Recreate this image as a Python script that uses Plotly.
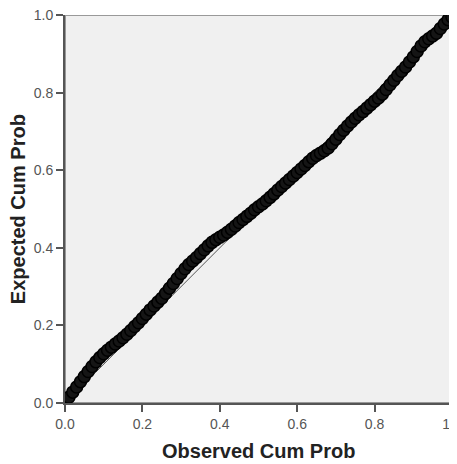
import plotly.graph_objects as go

# Observed cumulative probability (x) and expected cumulative probability (y)
observed = [0.00, 0.01, 0.02, 0.03, 0.04, 0.05, 0.06, 0.07, 0.08, 0.09,
            0.10, 0.11, 0.12, 0.13, 0.14, 0.15, 0.16, 0.17, 0.18, 0.19,
            0.20, 0.21, 0.22, 0.23, 0.24, 0.25, 0.26, 0.27, 0.28, 0.29,
            0.30, 0.31, 0.32, 0.33, 0.34, 0.35, 0.36, 0.37, 0.38, 0.39,
            0.40, 0.41, 0.42, 0.43, 0.44, 0.45, 0.46, 0.47, 0.48, 0.49,
            0.50, 0.51, 0.52, 0.53, 0.54, 0.55, 0.56, 0.57, 0.58, 0.59,
            0.60, 0.61, 0.62, 0.63, 0.64, 0.65, 0.66, 0.67, 0.68, 0.69,
            0.70, 0.71, 0.72, 0.73, 0.74, 0.75, 0.76, 0.77, 0.78, 0.79,
            0.80, 0.81, 0.82, 0.83, 0.84, 0.85, 0.86, 0.87, 0.88, 0.89,
            0.90, 0.91, 0.92, 0.93, 0.94, 0.95, 0.96, 0.97, 0.98, 0.99, 1.00]
expected = [0.005, 0.015, 0.028, 0.041, 0.055, 0.068, 0.081, 0.094, 0.106, 0.117,
            0.127, 0.136, 0.144, 0.152, 0.160, 0.168, 0.177, 0.187, 0.197, 0.207,
            0.218, 0.229, 0.240, 0.250, 0.260, 0.270, 0.283, 0.296, 0.308, 0.321,
            0.334, 0.346, 0.357, 0.366, 0.375, 0.385, 0.395, 0.405, 0.414, 0.421,
            0.427, 0.433, 0.440, 0.448, 0.456, 0.465, 0.473, 0.481, 0.489, 0.498,
            0.506, 0.513, 0.521, 0.530, 0.539, 0.549, 0.558, 0.567, 0.576, 0.585,
            0.594, 0.603, 0.612, 0.622, 0.631, 0.638, 0.644, 0.650, 0.657, 0.668,
            0.680, 0.692, 0.703, 0.714, 0.724, 0.734, 0.743, 0.751, 0.760, 0.769,
            0.778, 0.786, 0.796, 0.808, 0.820, 0.832, 0.844, 0.855, 0.866, 0.879,
            0.892, 0.906, 0.920, 0.931, 0.939, 0.946, 0.953, 0.965, 0.977, 0.988, 0.995]
ref_x = [0.0, 1.0]
ref_y = [0.0, 1.0]
tick_vals = [0.0, 0.2, 0.4, 0.6, 0.8, 1.0]
tick_text = ["0.0", "0.2", "0.4", "0.6", "0.8", "1.0"]
x_title = "Observed Cum Prob"
y_title = "Expected Cum Prob"

FONT = "Liberation Sans, Arial, sans-serif"

fig = go.Figure()
fig.add_trace(go.Scatter(x=ref_x, y=ref_y, mode="lines",
                         line=dict(color="#555555", width=1), hoverinfo="skip"))
fig.add_trace(go.Scatter(x=observed, y=expected, mode="markers",
                         marker=dict(symbol="circle", size=12, color="#151515",
                                     line=dict(color="#000000", width=1.5))))

axis_common = dict(range=[0, 1], tickvals=tick_vals, ticktext=tick_text,
                   showgrid=False, zeroline=False, ticks="outside", ticklen=7,
                   tickwidth=2, tickcolor="#555555", showline=True,
                   linecolor="#555555", linewidth=2,
                   tickfont=dict(family=FONT, size=14, color="#555555"),
                   ticklabeloverflow="allow",
                   fixedrange=True, automargin=False)

fig.update_layout(
    width=449, height=456,
    margin=dict(l=57, r=5, t=7, b=61),
    paper_bgcolor="white", plot_bgcolor="#f0f0f0",
    showlegend=False,
    xaxis=axis_common,
    yaxis=axis_common,
    shapes=[dict(type="rect", xref="x", yref="y", x0=0, y0=0, x1=1, y1=1,
                 line=dict(color="#999999", width=2), layer="below")],
    annotations=[
        dict(text="<b>" + x_title + "</b>", xref="paper", yref="paper",
             x=0.5, y=-0.124, xanchor="center", yanchor="middle", showarrow=False,
             font=dict(family=FONT, size=20, color="#222222")),
        dict(text="<b>" + y_title + "</b>", xref="paper", yref="paper",
             x=-0.121, y=0.5, xanchor="center", yanchor="middle", showarrow=False,
             textangle=-90, font=dict(family=FONT, size=20, color="#222222")),
    ],
)

fig.write_html("out.html")
